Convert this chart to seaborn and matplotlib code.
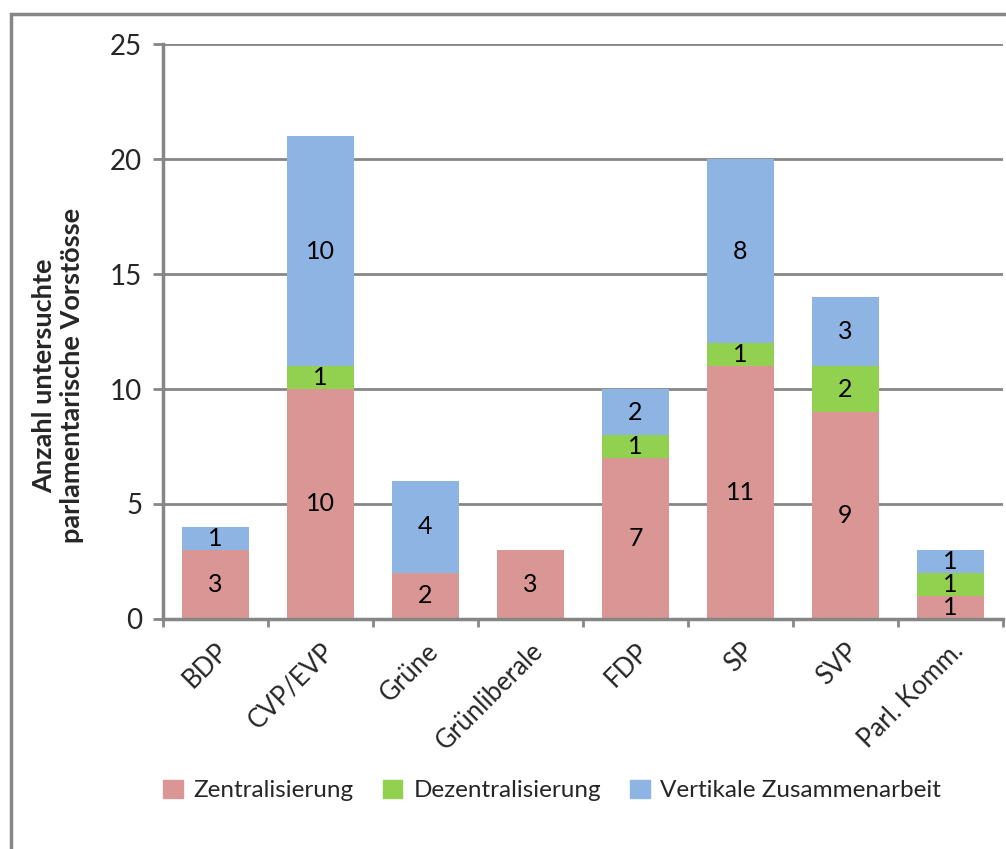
import matplotlib
matplotlib.use("Agg")
import matplotlib.pyplot as plt
import matplotlib.patches as mpatches
import numpy as np
import seaborn as sns

# data
parties = ["BDP", "CVP/EVP", "Grüne", "Grünliberale", "FDP", "SP", "SVP", "Parl. Komm."]
zentral = [3, 10, 2, 3, 7, 11, 9, 1]
dezentral = [0, 1, 0, 0, 1, 1, 2, 1]
vertikal = [1, 10, 4, 0, 2, 8, 3, 1]

series_names = ["Zentralisierung", "Dezentralisierung", "Vertikale Zusammenarbeit"]
series_colors = ["#D99694", "#92D050", "#8EB4E3"]

sns.set_style("white")
plt.rcParams["font.family"] = ["Lato", "DejaVu Sans"]

fig = plt.figure(figsize=(10.06, 8.49), dpi=100)
ax = fig.add_axes([0.162, 0.271, 0.835, 0.677])

grid_col = "#868686"
bottom = np.zeros(len(parties))
for name, vals, col in zip(series_names, [zentral, dezentral, vertikal], series_colors):
    sns.barplot(x=parties, y=vals, bottom=bottom, color=col, width=0.63,
                saturation=1, linewidth=0, ax=ax, label=name, zorder=3)
    cont = ax.containers[-1]
    labels = [str(v) if v > 0 else "" for v in vals]
    ax.bar_label(cont, labels=labels, label_type="center", fontsize=18, color="black")
    bottom = bottom + np.array(vals)

ax.set_ylim(0, 25)
ax.set_xlim(-0.5, len(parties) - 0.5)
ax.set_yticks(range(0, 26, 5))
ax.yaxis.grid(True, color=grid_col, linewidth=2)
ax.set_axisbelow(True)

for side in ["top", "right"]:
    ax.spines[side].set_visible(False)
for side in ["left", "bottom"]:
    ax.spines[side].set_color(grid_col)
    ax.spines[side].set_linewidth(2.5)
    ax.spines[side].set_zorder(4)

ax.tick_params(axis="y", labelsize=20, length=7, width=2, color=grid_col, left=True, pad=8)
ax.set_xticks(range(len(parties)))
ax.set_xticklabels(parties, rotation=45, ha="right", rotation_mode="anchor", fontsize=18.5)
ax.tick_params(axis="x", length=0, pad=14)
ax.set_xticks(np.arange(-0.5, len(parties), 1), minor=True)
ax.tick_params(axis="x", which="minor", length=6, width=2, color=grid_col, bottom=True)

ax.set_xlabel("")
ax.set_ylabel("Anzahl untersuchte\nparlamentarische Vorstösse", fontsize=19.5,
              fontweight="bold")
ax.yaxis.set_label_coords(-0.094, 0.423)

if ax.get_legend() is not None:
    ax.get_legend().remove()
handles = [mpatches.Patch(color=c, label=n) for n, c in zip(series_names, series_colors)]
fig.legend(handles=handles, loc="center", bbox_to_anchor=(0.549, 0.069), ncol=3,
           frameon=False, fontsize=17.5, handlelength=0.8, handleheight=0.8,
           handletextpad=0.45, columnspacing=1.2)

# outer chart border like the spreadsheet frame
frame = mpatches.Rectangle((0.0105, -0.1), 1.2, 1.1 - 0.0165, transform=fig.transFigure,
                           fill=False, edgecolor="#878787", linewidth=2.5, zorder=0)
fig.patches.append(frame)

fig.savefig("out.png", dpi=100)
